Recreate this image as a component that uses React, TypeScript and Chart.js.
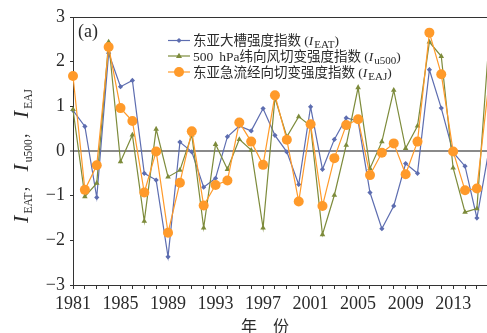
import { useEffect, useRef } from 'react';
import { Chart, registerables } from 'chart.js';

Chart.register(...registerables);

const years = [
  1981, 1982, 1983, 1984, 1985, 1986, 1987, 1988, 1989, 1990,
  1991, 1992, 1993, 1994, 1995, 1996, 1997, 1998, 1999, 2000,
  2001, 2002, 2003, 2004, 2005, 2006, 2007, 2008, 2009, 2010,
  2011, 2012, 2013, 2014, 2015, 2016,
];
const ieat = [
  0.91, 0.55, -1.04, 2.19, 1.44, 1.58, -0.5, -0.65, -2.37, 0.2,
  -0.02, -0.81, -0.61, 0.32, 0.56, 0.45, 0.95, 0.35, -0.02, -0.75,
  0.99, -0.41, 0.26, 0.74, 0.67, -0.93, -1.74, -1.23, -0.28, -0.5,
  1.82, 0.96, -0.03, -0.34, -1.5, 0.0,
];
const iu500 = [
  0.93, -1.02, -0.72, 2.44, -0.24, 0.36, -1.57, 0.49, -0.58, -0.43,
  0.36, -1.72, 0.15, -0.41, 0.26, 0.02, -1.72, 1.19, 0.32, 0.77,
  0.56, -1.87, -0.99, 0.13, 1.42, -0.39, 0.21, 1.36, 0.06, 0.56,
  2.44, 2.12, -0.38, -1.37, -1.29, 2.4,
];
const ieaj = [
  1.68, -0.87, -0.32, 2.33, 0.96, 0.67, -0.93, -0.01, -1.83, -0.71,
  0.44, -1.22, -0.76, -0.66, 0.64, 0.21, -0.31, 1.25, 0.25, -1.13,
  0.6, -1.23, -0.16, 0.58, 0.71, -0.54, -0.04, 0.17, -0.52, 0.21,
  2.65, 1.72, -0.01, -0.88, -0.84, 1.5,
];
const yTicks = [-3, -2, -1, 0, 1, 2, 3];
const xLabelYears = [1981, 1985, 1989, 1993, 1997, 2001, 2005, 2009, 2013];
const xMin = 1981;
const xMax = 2015.85;

const seriesNames = ['东亚大槽强度指数', '500 hPa纬向风切变强度指数', '东亚急流经向切变强度指数'];
const seriesSubs = ['EAT', 'u500', 'EAJ'];
const xTitle = '年　份';
const panelLabel = '(a)';

const SERIF = "'Liberation Serif', 'Times New Roman', serif";
const CJK = "'Noto Sans CJK SC', 'Noto Sans CJK JP', sans-serif";
const BLUE = '#5d6db0';
const GREEN = '#7d8b3b';
const ORANGE = '#ff9a2a';
const TEXT = '#2a2a2a';
const colors = [BLUE, GREEN, ORANGE];
const styles = ['rectRot', 'triangle', 'circle'];

type Part = { t: string; font: string; dy?: number; gap?: number };

function drawParts(ctx: CanvasRenderingContext2D, x: number, y: number, parts: Part[]) {
  let cx = x;
  for (const p of parts) {
    ctx.font = p.font;
    ctx.fillText(p.t, cx, y + (p.dy || 0));
    cx += ctx.measureText(p.t).width + (p.gap || 0);
  }
  return cx;
}
function partsWidth(ctx: CanvasRenderingContext2D, parts: Part[]) {
  let w = 0;
  for (const p of parts) {
    ctx.font = p.font;
    w += ctx.measureText(p.t).width + (p.gap || 0);
  }
  return w;
}

function drawMarker(ctx: CanvasRenderingContext2D, style: string, x: number, y: number, color: string) {
  ctx.fillStyle = color;
  ctx.strokeStyle = color;
  ctx.beginPath();
  if (style === 'circle') {
    ctx.arc(x, y, 5, 0, Math.PI * 2);
  } else if (style === 'triangle') {
    const r = 3.2;
    ctx.moveTo(x, y - r);
    ctx.lineTo(x + r * 0.95, y + r * 0.6);
    ctx.lineTo(x - r * 0.95, y + r * 0.6);
    ctx.closePath();
  } else {
    const r = 2.6;
    ctx.moveTo(x, y - r);
    ctx.lineTo(x + r, y);
    ctx.lineTo(x, y + r);
    ctx.lineTo(x - r, y);
    ctx.closePath();
  }
  ctx.fill();
}

const annotPlugin = {
  id: 'annot',
  afterDraw(chart: any) {
    const ctx: CanvasRenderingContext2D = chart.ctx;
    ctx.save();
    ctx.fillStyle = TEXT;
    ctx.textBaseline = 'alphabetic';
    ctx.textAlign = 'left';

    // panel label
    ctx.font = `18px ${SERIF}`;
    ctx.fillText(panelLabel, 78, 37);

    // legend
    const rowY = [40.5, 56, 72];
    rowY.forEach((ry, i) => {
      ctx.strokeStyle = colors[i];
      ctx.lineWidth = 1.2;
      ctx.beginPath();
      ctx.moveTo(168, ry);
      ctx.lineTo(190, ry);
      ctx.stroke();
      drawMarker(ctx, styles[i], 179, ry, colors[i]);
      ctx.fillStyle = TEXT;
      const base = ry + 4.5;
      const parts: Part[] = [];
      if (i === 1) {
        parts.push({ t: '500', font: `13.5px ${SERIF}`, gap: 6 });
        parts.push({ t: 'hPa', font: `13.5px ${SERIF}` });
        parts.push({ t: '纬向风切变强度指数', font: `13.5px ${CJK}` });
      } else {
        parts.push({ t: seriesNames[i], font: `13.5px ${CJK}` });
      }
      parts.push({ t: ' (', font: `13.5px ${SERIF}` });
      parts.push({ t: 'I', font: `italic 13.5px ${SERIF}`, gap: 1 });
      parts.push({ t: seriesSubs[i], font: `11px ${SERIF}`, dy: 3 });
      parts.push({ t: ')', font: `13.5px ${SERIF}` });
      drawParts(ctx, 193, base, parts);
    });

    // x axis title
    ctx.font = `16px ${CJK}`;
    ctx.textAlign = 'center';
    ctx.textBaseline = 'middle';
    ctx.fillText(xTitle, 265, 326);

    // y axis title (rotated, reading bottom to top)
    ctx.textAlign = 'left';
    ctx.textBaseline = 'alphabetic';
    const yParts: Part[] = [];
    seriesSubs.forEach((s, i) => {
      yParts.push({ t: 'I', font: `italic 22px ${SERIF}`, gap: 2 });
      yParts.push({ t: s, font: `11.5px ${SERIF}`, dy: 3.5 });
      if (i < 2) yParts.push({ t: '，', font: `14px ${CJK}`, gap: 7 });
    });
    ctx.translate(28, 156);
    ctx.rotate(-Math.PI / 2);
    const w = partsWidth(ctx, yParts);
    drawParts(ctx, -w / 2, 0, yParts);
    ctx.restore();
  },
};

export default function App() {
  const ref = useRef<HTMLCanvasElement | null>(null);
  useEffect(() => {
    if (!ref.current) return;
    const mk = (vals: number[]) => years.map((y, i) => ({ x: y, y: vals[i] }));
    const rad = (r: number) => (c: any) => (c.raw && c.raw.x > xMax ? 0 : r);
    const clip = { left: 10, top: 10, bottom: 10, right: 0 };
    const chart = new Chart(ref.current, {
      type: 'line',
      data: {
        datasets: [
          {
            label: seriesNames[2],
            data: mk(ieaj),
            borderColor: ORANGE,
            backgroundColor: ORANGE,
            borderWidth: 1.2,
            pointStyle: 'circle',
            pointRadius: rad(5),
            pointBorderWidth: 0,
            order: 0,
            clip,
          },
          {
            label: seriesNames[1],
            data: mk(iu500),
            borderColor: GREEN,
            backgroundColor: GREEN,
            borderWidth: 1.2,
            pointStyle: 'triangle',
            pointRadius: rad(3.2),
            pointBorderWidth: 0,
            order: 1,
            clip,
          },
          {
            label: seriesNames[0],
            data: mk(ieat),
            borderColor: BLUE,
            backgroundColor: BLUE,
            borderWidth: 1.2,
            pointStyle: 'rectRot',
            pointRadius: rad(2.6),
            pointBorderWidth: 0,
            order: 2,
            clip,
          },
        ],
      } as any,
      options: {
        animation: false,
        responsive: false,
        maintainAspectRatio: false,
        devicePixelRatio: 1,
        layout: { padding: { top: 17, left: 0, right: 0, bottom: 0 } },
        plugins: { legend: { display: false }, tooltip: { enabled: false }, title: { display: false } },
        scales: {
          x: {
            type: 'linear',
            min: xMin,
            max: xMax,
            afterBuildTicks: (s: any) => {
              s.ticks = years.filter((y) => y <= xMax).map((v) => ({ value: v }));
            },
            afterFit: (s: any) => {
              s.height = 48;
            },
            ticks: {
              autoSkip: false,
              maxRotation: 0,
              minRotation: 0,
              padding: 4,
              color: TEXT,
              font: { family: SERIF, size: 18 },
              callback: (v: any) => (xLabelYears.includes(Number(v)) ? String(v) : ''),
            },
            grid: { drawOnChartArea: false, drawTicks: true, tickLength: 4, tickColor: '#333', tickWidth: 1 },
            border: { display: true, color: '#333', width: 1 },
          },
          y: {
            type: 'linear',
            min: -3,
            max: 3,
            afterBuildTicks: (s: any) => {
              s.ticks = yTicks.map((v) => ({ value: v }));
            },
            afterFit: (s: any) => {
              s.width = 73;
            },
            ticks: {
              padding: 5,
              color: TEXT,
              font: { family: SERIF, size: 18 },
              callback: (v: any) => (Number(v) < 0 ? '\u2212' + Math.abs(Number(v)) : String(v)),
            },
            grid: {
              drawOnChartArea: true,
              drawTicks: true,
              tickLength: 3,
              tickColor: '#333',
              tickWidth: 1,
              color: (c: any) => (c.tick && c.tick.value === 0 ? '#8a8a8a' : c.tick && c.tick.value === 3 ? '#333' : 'rgba(0,0,0,0)'),
              lineWidth: (c: any) => (c.tick && c.tick.value === 0 ? 2 : 1),
            },
            border: { display: true, color: '#333', width: 1 },
          },
        },
      } as any,
      plugins: [annotPlugin],
    });
    const deficit = 487 - chart.chartArea.right;
    if (deficit > 0.5) chart.resize(487 + deficit, 333);
    return () => chart.destroy();
  }, []);
  return (
    <div style={{ position: 'fixed', left: 0, top: 0, width: 487, height: 333, overflow: 'hidden', background: '#fff' }}>
      <canvas ref={ref} width={487} height={333} style={{ display: 'block', width: 487, height: 333 }} />
    </div>
  );
}
